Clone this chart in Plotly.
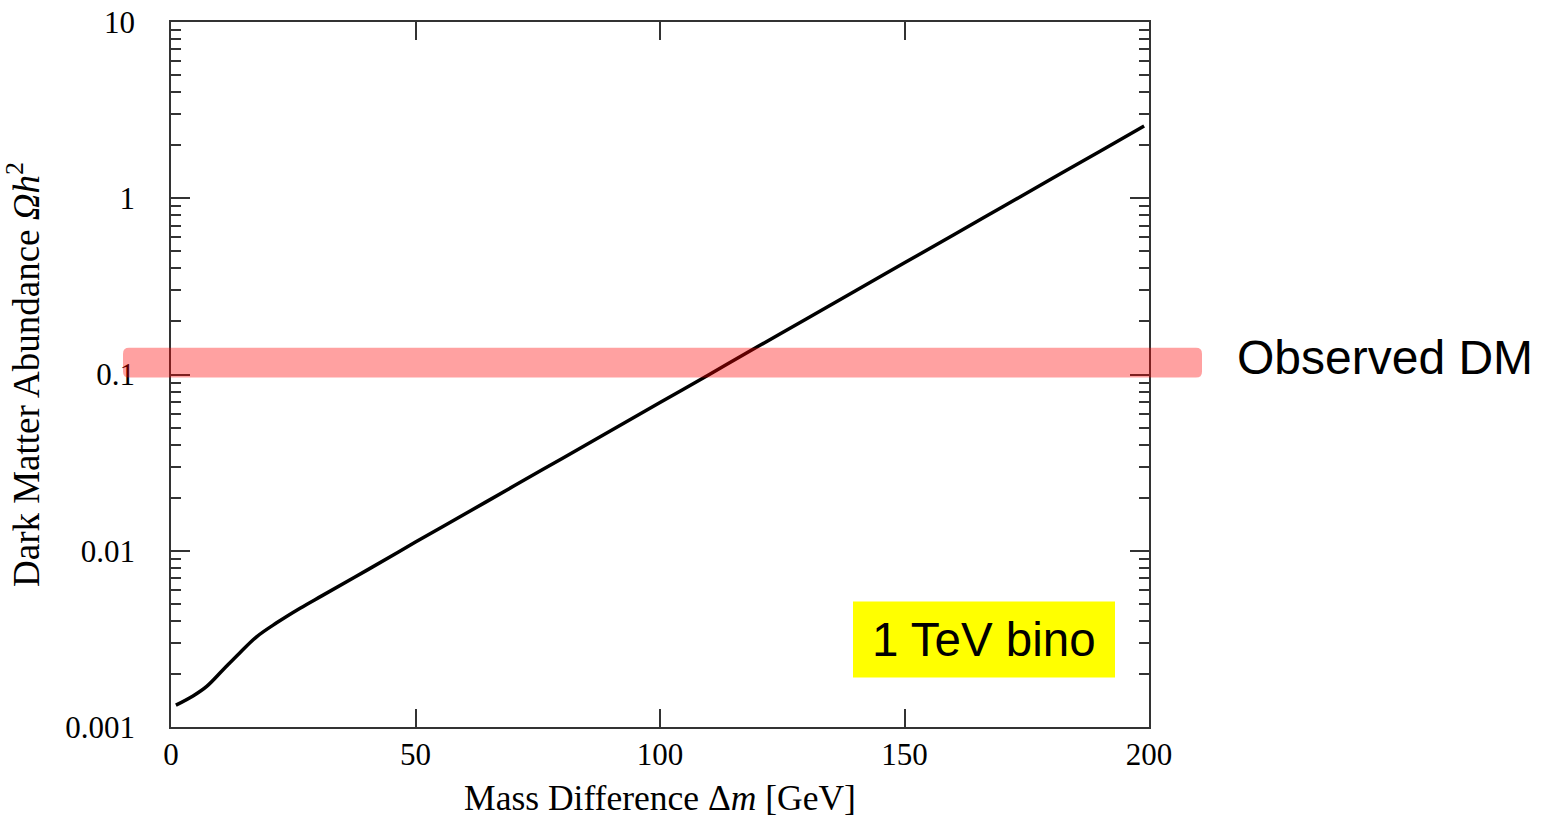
import math
import plotly.graph_objects as go

# Data
mass_diff = [1.0, 4.5, 7.3, 10.7, 14.1, 17.5, 21.6, 26.4, 31.1, 40, 50, 60, 70, 80,
             90, 100, 110, 120, 130, 140, 150, 160, 170, 180, 190, 199]
abundance = [0.00133, 0.0015, 0.0017, 0.00212, 0.00264, 0.00325, 0.0039, 0.00472,
             0.0056, 0.00774, 0.0112, 0.0161, 0.0232, 0.0334, 0.0481, 0.0693,
             0.0998, 0.144, 0.207, 0.299, 0.430, 0.619, 0.892, 1.285, 1.85, 2.57]

y_tickvals = [0.001, 0.01, 0.1, 1, 10]
y_ticktext = ["0.001", "0.01", "0.1", "1", "10"]
x_tickvals = [0, 50, 100, 150, 200]
minor_vals = [m * 10 ** e for e in range(-3, 1) for m in range(2, 10)]

observed_lo = 0.096
observed_hi = 0.142

W, H = 1544, 818
L, R, T, B = 171, 1149, 22, 727.5  # plot-area edges in page pixels

def px_x(p):
    return (p - L) / (R - L)

def px_y(p):
    return (B - p) / (B - T)

serif = "Liberation Serif, Times New Roman, serif"
sans = "Liberation Sans, Arial, sans-serif"
axcol = "#333333"

fig = go.Figure()
fig.add_trace(go.Scatter(
    x=mass_diff, y=abundance, mode="lines",
    line=dict(color="black", width=3.5, shape="spline", smoothing=1.0),
    showlegend=False, hoverinfo="x+y"))

fig.update_layout(
    width=W, height=H,
    margin=dict(l=L, r=W - R, t=T, b=H - B, autoexpand=False),
    plot_bgcolor="white", paper_bgcolor="white",
    font=dict(family=serif, color="black"),
    xaxis=dict(
        range=[0, 200], tickvals=x_tickvals, ticks="inside", ticklen=18,
        tickwidth=1.5, tickcolor=axcol, showline=True, linecolor=axcol,
        linewidth=1.5, mirror="ticks", showgrid=False, zeroline=False,
        tickfont=dict(family=serif, size=31, color="black"),
        ticklabelstandoff=-1, ticklabeloverflow="allow",
        title=dict(text="Mass Difference Δ<i>m</i> [GeV]",
                   font=dict(family=serif, size=35.5, color="black"), standoff=14),
        automargin=False),
    yaxis=dict(
        type="log", range=[-3, 1], tickvals=y_tickvals, ticktext=y_ticktext,
        ticks="inside", ticklen=19, tickwidth=1.5, tickcolor=axcol,
        showline=True, linecolor=axcol, linewidth=1.5, mirror="ticks",
        showgrid=False, zeroline=False,
        minor=dict(tickvals=minor_vals, ticks="inside", ticklen=10,
                   tickwidth=1.5, tickcolor=axcol, showgrid=False),
        tickfont=dict(family=serif, size=31, color="black"),
        ticklabelstandoff=28, ticklabeloverflow="allow",
        title=dict(text="Dark Matter Abundance <i>Ωh</i><sup>2</sup>",
                   font=dict(family=serif, size=37, color="black"), standoff=15),
        automargin=False),
)

# Observed DM band (rounded rectangle, semi-transparent, above the curve)
bx0, bx1 = px_x(123), px_x(1202)
rx = 6 / (R - L)
ly0, ly1 = math.log10(observed_lo), math.log10(observed_hi)
ry = 6 / ((B - T) / 4)  # 6 px expressed in decades
def yv(lg):
    return 10 ** lg
path = (f"M {bx0 + rx},{yv(ly0)} L {bx1 - rx},{yv(ly0)} "
        f"Q {bx1},{yv(ly0)} {bx1},{yv(ly0 + ry)} L {bx1},{yv(ly1 - ry)} "
        f"Q {bx1},{yv(ly1)} {bx1 - rx},{yv(ly1)} L {bx0 + rx},{yv(ly1)} "
        f"Q {bx0},{yv(ly1)} {bx0},{yv(ly1 - ry)} L {bx0},{yv(ly0 + ry)} "
        f"Q {bx0},{yv(ly0)} {bx0 + rx},{yv(ly0)} Z")
fig.add_shape(type="path", xref="paper", yref="y", path=path,
              fillcolor="rgba(255,0,0,0.37)", line=dict(width=0), layer="above")

fig.add_annotation(text="Observed DM", xref="paper", yref="paper",
                   x=px_x(1235), y=px_y(358), xanchor="left", yanchor="middle",
                   showarrow=False, font=dict(family=sans, size=48, color="black"))

# 1 TeV bino label box
fig.add_shape(type="rect", xref="paper", yref="paper",
              x0=px_x(853), x1=px_x(1115), y0=px_y(678), y1=px_y(602),
              fillcolor="#FFFF00", line=dict(width=0), layer="above")
fig.add_annotation(text="1 TeV bino", xref="paper", yref="paper",
                   x=px_x(984), y=px_y(640), xanchor="center", yanchor="middle",
                   showarrow=False, font=dict(family=sans, size=47.5, color="black"))

fig.write_html("out.html", config={"displayModeBar": False},
               post_script="document.body.style.margin='0';document.body.style.overflow='hidden';")
